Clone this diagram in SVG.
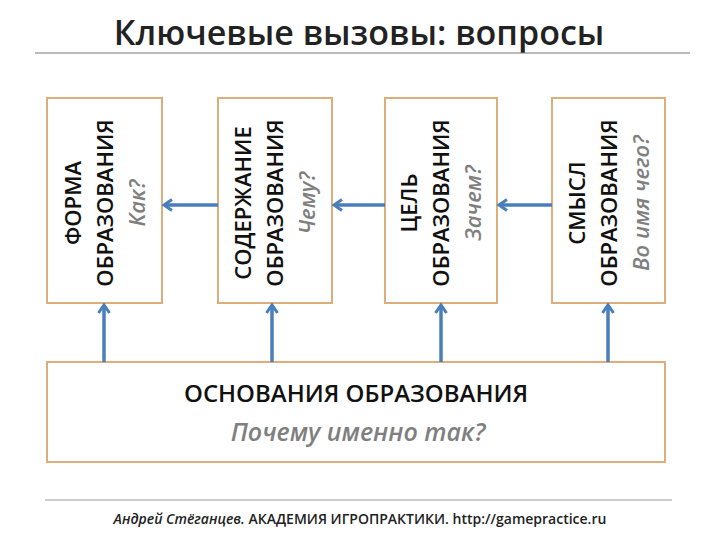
<svg xmlns="http://www.w3.org/2000/svg" width="720" height="540" viewBox="0 0 720 540">
<style>
.box{fill:#fff;stroke:#dcae7c;stroke-width:2}
.t{font-family:"Open Sans",sans-serif;font-size:22px;font-weight:600;fill:#111;text-anchor:middle}
.q{font-family:"Open Sans",sans-serif;font-size:22px;font-style:italic;font-weight:600;fill:#7f7f7f;text-anchor:middle}
.c{stroke:#4a7ebb;stroke-width:3.5;fill:none;marker-end:url(#a)}
</style>
<defs><marker id="a" markerWidth="14" markerHeight="14" refX="9" refY="7" orient="auto" markerUnits="userSpaceOnUse"><path d="M2,1.5 L10,7 L2,12.5" fill="none" stroke="#4a7ebb" stroke-width="3"/></marker></defs>
<rect width="720" height="540" fill="#fff"/>
<text x="359" y="45" font-family="Open Sans,sans-serif" font-size="34" font-weight="600" fill="#222" text-anchor="middle">Ключевые вызовы: вопросы</text>
<line x1="35" y1="53" x2="690" y2="53" stroke="#777" stroke-width="1"/>
<g id="n1"><rect class="box" x="47" y="98" width="115" height="205"/>
<g transform="translate(104.5,203) rotate(-90)"><text class="t" y="-24">ФОРМА</text><text class="t" y="8">ОБРАЗОВАНИЯ</text><text class="q" y="40">Как?</text></g></g>
<g id="n2"><rect class="box" x="218" y="98" width="114" height="205"/>
<g transform="translate(275,203) rotate(-90)"><text class="t" y="-24">СОДЕРЖАНИЕ</text><text class="t" y="8">ОБРАЗОВАНИЯ</text><text class="q" y="40">Чему?</text></g></g>
<g id="n3"><rect class="box" x="385" y="98" width="112" height="205"/>
<g transform="translate(441,203) rotate(-90)"><text class="t" y="-24">ЦЕЛЬ</text><text class="t" y="8">ОБРАЗОВАНИЯ</text><text class="q" y="40">Зачем?</text></g></g>
<g id="n4"><rect class="box" x="552" y="98" width="113" height="205"/>
<g transform="translate(608.5,203) rotate(-90)"><text class="t" y="-24">СМЫСЛ</text><text class="t" y="8">ОБРАЗОВАНИЯ</text><text class="q" y="40">Во имя чего?</text></g></g>
<g id="n5"><rect class="box" x="47" y="362" width="618" height="100"/>
<text class="t" x="356" y="402" style="font-size:24px">ОСНОВАНИЯ ОБРАЗОВАНИЯ</text>
<text class="q" x="358" y="441" style="font-size:25px">Почему именно так?</text></g>
<g id="connectors">
<line class="c" x1="218" y1="205" x2="165" y2="205"/>
<line class="c" x1="385" y1="205" x2="335" y2="205"/>
<line class="c" x1="552" y1="205" x2="500" y2="205"/>
<line class="c" x1="104" y1="362" x2="104" y2="306"/>
<line class="c" x1="272" y1="362" x2="272" y2="306"/>
<line class="c" x1="441" y1="362" x2="441" y2="306"/>
<line class="c" x1="608" y1="362" x2="608" y2="306"/>
</g>
<line x1="45" y1="500" x2="672" y2="500" stroke="#999" stroke-width="1"/>
<text x="360" y="524" font-family="Open Sans,sans-serif" font-size="14" font-weight="600" fill="#222" text-anchor="middle"><tspan font-style="italic">Андрей Стёганцев.</tspan> АКАДЕМИЯ ИГРОПРАКТИКИ.  http://gamepractice.ru</text>
</svg>
